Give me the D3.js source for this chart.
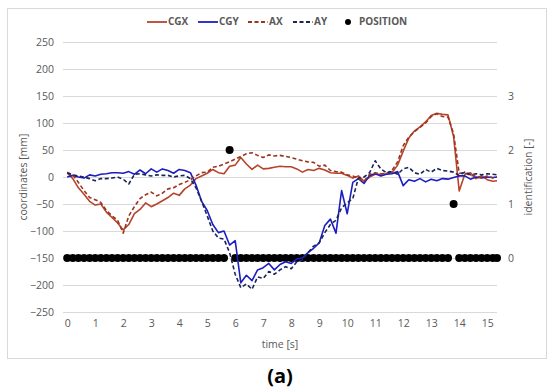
<!DOCTYPE html>
<html>
<head>
<meta charset="utf-8">
<script src="https://cdn.jsdelivr.net/npm/d3@7"></script>
<style>
  html, body { margin: 0; padding: 0; background: #fff; }
  svg { display: block; }
  text { font-family: "Open Sans", "Liberation Sans", sans-serif; }
</style>
</head>
<body>
<svg id="chart" width="550" height="392"></svg>
<script>
// time samples [s]
const TIME = [0, 0.2, 0.4, 0.6, 0.8, 1.0, 1.2, 1.4, 1.6, 1.8, 2.0, 2.2, 2.4, 2.6, 2.8, 3.0, 3.2, 3.4, 3.6, 3.8,
  4.0, 4.2, 4.4, 4.6, 4.8, 5.0, 5.2, 5.4, 5.6, 5.8, 6.0, 6.2, 6.4, 6.6, 6.8, 7.0, 7.2, 7.4, 7.6, 7.8,
  8.0, 8.2, 8.4, 8.6, 8.8, 9.0, 9.2, 9.4, 9.6, 9.8, 10.0, 10.2, 10.4, 10.6, 10.8, 11.0, 11.2, 11.4, 11.6, 11.8,
  12.0, 12.2, 12.4, 12.6, 12.8, 13.0, 13.2, 13.4, 13.6, 13.8, 14.0, 14.2, 14.4, 14.6, 14.8, 15.0, 15.2, 15.35];

const CGX = [8, -3, -20, -32, -45, -52, -50, -65, -75, -85, -98, -88, -68, -60, -48, -55, -50, -44, -38, -30,
  -34, -22, -15, -3, 2, 7, 14, 8, 6, 20, 22, 36, 24, 14, 22, 15, 16, 18, 20, 19,
  19, 15, 9, 14, 12, 16, 13, 8, 7, 7, 3, -2, 2, -8, 0, 5, 5, 6, 8, 22,
  48, 72, 85, 93, 102, 114, 118, 116, 115, 75, -26, 5, 8, -3, 2, -5, -8, -7];

const CGY = [0, 3, 0, -2, 4, 2, 5, 6, 8, 8, 7, 10, 5, 13, 6, 15, 9, 15, 12, 7,
  14, 12, 8, -15, -45, -62, -88, -103, -100, -126, -118, -196, -182, -192, -172, -168, -160, -172, -162, -157,
  -160, -152, -150, -140, -132, -122, -90, -78, -104, -25, -68, -10, -3, -12, 3, 6, 2, 5, 6, 10,
  -16, -5, -8, -3, -9, -4, -7, -3, -4, -1, 2, 2, -4, 0, -2, 0, -1, 0];

const AX = [9, 4, -10, -25, -38, -42, -47, -62, -72, -80, -104, -72, -55, -40, -33, -28, -35, -30, -22, -20,
  -14, -10, -5, 2, 8, 9, 18, 20, 24, 28, 33, 38, 43, 45, 40, 36, 41, 39, 40, 38,
  36, 33, 30, 28, 27, 20, 22, 12, 10, 9, 4, 2, -3, -8, 5, 8, 6, 7, 12, 28,
  58, 74, 84, 92, 100, 112, 117, 112, 111, 80, 7, 8, 3, 2, -2, 2, -2, 0];

const AY = [7, 4, 2, 0, -3, -7, -3, -3, -2, 0, -4, -13, 5, 6, 4, 2, 4, 3, 3, 0,
  2, 3, -3, -20, -45, -72, -100, -113, -115, -140, -180, -205, -198, -208, -185, -188, -175, -180, -172, -166,
  -170, -157, -154, -140, -128, -122, -103, -88, -80, -57, -48, -40, -2, 0, 8, 30, 15, 8, 10, 5,
  15, 18, 8, 5, 14, 9, 16, 12, 11, 9, 3, 9, 4, 6, 4, 6, 5, 4];

// identification [-]
const POSITION = [0, 0, 0, 0, 0, 0, 0, 0, 0, 0, 0, 0, 0, 0, 0, 0, 0, 0, 0, 0,
  0, 0, 0, 0, 0, 0, 0, 0, 0, 2, 0, 0, 0, 0, 0, 0, 0, 0, 0, 0,
  0, 0, 0, 0, 0, 0, 0, 0, 0, 0, 0, 0, 0, 0, 0, 0, 0, 0, 0, 0,
  0, 0, 0, 0, 0, 0, 0, 0, 0, 1, 0, 0, 0, 0, 0, 0, 0, 0];

const X_TICKS = [0, 1, 2, 3, 4, 5, 6, 7, 8, 9, 10, 11, 12, 13, 14, 15];
const Y_TICKS = [-250, -200, -150, -100, -50, 0, 50, 100, 150, 200, 250];
const Y2_TICKS = [0, 1, 2, 3];

const SERIES = [
  { name: 'CGX', values: CGX, color: '#b8432b', dash: null },
  { name: 'CGY', values: CGY, color: '#1d1dc4', dash: null },
  { name: 'AX', values: AX, color: '#9b3520', dash: '4,2.5' },
  { name: 'AY', values: AY, color: '#1b2558', dash: '4,2.5' }
];

const svg = d3.select('#chart');
const GRAY = '#595959';
const FS = 10.5;

// chart frame
svg.append('rect').attr('x', 7.5).attr('y', 8.5).attr('width', 539).attr('height', 350)
  .attr('fill', '#fff').attr('stroke', '#d9d9d9').attr('stroke-width', 1);

const x = d3.scaleLinear().domain([-0.15, 15.35]).range([63, 497]);
const y = d3.scaleLinear().domain([-250, 250]).range([312, 42]);
const y2 = d3.scaleLinear().domain([-1, 4]).range([312, 42]);

// gridlines
svg.append('g').selectAll('line').data(Y_TICKS).join('line')
  .attr('x1', x.range()[0]).attr('x2', x.range()[1])
  .attr('y1', d => Math.round(y(d)) + 0.5).attr('y2', d => Math.round(y(d)) + 0.5)
  .attr('stroke', '#d9d9d9').attr('stroke-width', 1);

function styleTicks(g) {
  g.select('.domain').remove();
  g.selectAll('text').attr('fill', GRAY).attr('font-size', FS)
    .attr('font-family', '"Open Sans", sans-serif');
}

// left axis
svg.append('g').attr('transform', 'translate(54,0)')
  .call(d3.axisLeft(y).tickValues(Y_TICKS).tickSize(0).tickPadding(0))
  .call(styleTicks);

// right axis
svg.append('g').attr('transform', 'translate(508,0)')
  .call(d3.axisRight(y2).tickValues(Y2_TICKS).tickFormat(d3.format('d')).tickSize(0).tickPadding(0))
  .call(styleTicks);

// bottom axis
svg.append('g').attr('transform', 'translate(0,320)')
  .call(d3.axisBottom(x).tickValues(X_TICKS).tickSize(0).tickPadding(0))
  .call(styleTicks);

// axis titles
svg.append('text').attr('transform', 'translate(24,177) rotate(-90)')
  .attr('text-anchor', 'middle').attr('dominant-baseline', 'middle')
  .attr('fill', GRAY).attr('font-size', FS).text('coordinates [mm]');
svg.append('text').attr('transform', 'translate(529,177) rotate(-90)')
  .attr('text-anchor', 'middle').attr('dominant-baseline', 'middle')
  .attr('fill', GRAY).attr('font-size', FS).text('identification [-]');
svg.append('text').attr('x', 280).attr('y', 348)
  .attr('text-anchor', 'middle').attr('fill', GRAY).attr('font-size', FS).text('time [s]');

// position dots (right axis)
svg.append('g').selectAll('circle').data(TIME.map((t, i) => [t, POSITION[i]])).join('circle')
  .attr('cx', d => x(d[0])).attr('cy', d => y2(d[1])).attr('r', 4).attr('fill', '#000');

// lines
const line = d3.line().x(d => x(d[0])).y(d => y(d[1]));
SERIES.forEach(s => {
  svg.append('path').datum(TIME.map((t, i) => [t, s.values[i]]))
    .attr('fill', 'none').attr('stroke', s.color).attr('stroke-width', 1.6)
    .attr('stroke-dasharray', s.dash).attr('stroke-linejoin', 'round')
    .attr('d', line);
});

// legend
const legend = svg.append('g').attr('transform', 'translate(0,22)');
const LEG_X = [147, 198, 248, 293];
SERIES.forEach((s, i) => {
  legend.append('line').attr('x1', LEG_X[i]).attr('x2', LEG_X[i] + 20)
    .attr('y1', 0).attr('y2', 0).attr('stroke', s.color).attr('stroke-width', 1.8)
    .attr('stroke-dasharray', s.dash);
  legend.append('text').attr('x', LEG_X[i] + 21).attr('y', 0).attr('dominant-baseline', 'middle')
    .attr('fill', GRAY).attr('font-size', 10).attr('font-weight', 'bold').text(s.name);
});
legend.append('circle').attr('cx', 348).attr('cy', 0).attr('r', 3).attr('fill', '#000');
legend.append('text').attr('x', 359).attr('y', 0).attr('dominant-baseline', 'middle')
  .attr('fill', GRAY).attr('font-size', 10).attr('font-weight', 'bold').text('POSITION');

// panel label
svg.append('text').attr('x', 280).attr('y', 383).attr('text-anchor', 'middle')
  .attr('font-family', '"DejaVu Serif", "Liberation Serif", serif').attr('font-size', 20)
  .attr('font-weight', 'bold').attr('fill', '#000')
  .text('(a)');
</script>
</body>
</html>
